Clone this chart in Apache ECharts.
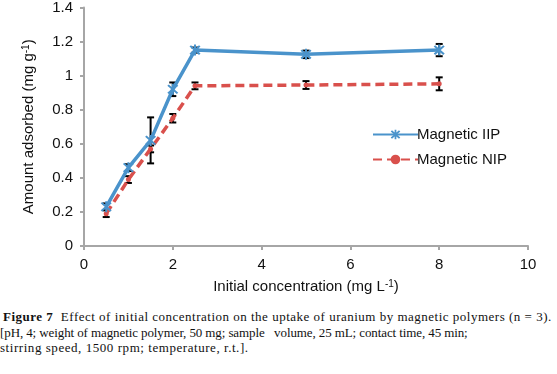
<!DOCTYPE html>
<html>
<head>
<meta charset="utf-8">
<script src="https://cdn.jsdelivr.net/npm/echarts@6/dist/echarts.min.js"></script>
<style>
html,body{margin:0;padding:0;background:#fff;}
#chart{position:absolute;left:0;top:0;width:557px;height:300px;}
#cap{position:absolute;left:0;top:309px;width:560px;font-family:"Liberation Serif",serif;font-size:13px;line-height:15.5px;color:#111;white-space:nowrap;}
#cap b{font-weight:bold;}
</style>
</head>
<body>
<div id="chart"></div>
<div id="cap">
<div style="padding-left:3px;letter-spacing:0.5px"><b>Figure 7</b>&nbsp; Effect of initial concentration on the uptake of uranium by magnetic polymers (n = 3).</div>
<div style="letter-spacing:-0.1px">[pH, 4; weight of magnetic polymer, 50 mg; sample &nbsp; volume, 25 mL; contact time, 45 min;</div>
<div style="letter-spacing:0.55px">stirring speed, 1500 rpm; temperature, r.t.].</div>
</div>
<script>
var concentrations = [0.5, 1, 1.5, 2, 2.5, 5, 8];
var iipValues = [0.23, 0.46, 0.62, 0.92, 1.15, 1.125, 1.15];
var iipErrors = [0.02, 0.02, 0.135, 0.04, 0.015, 0.022, 0.036];
var nipValues = [0.19, 0.39, 0.57, 0.75, 0.94, 0.945, 0.952];
var nipErrors = [0.02, 0.02, 0.02, 0.025, 0.02, 0.023, 0.038];
var xTicks = [0, 2, 4, 6, 8, 10];
var yTicks = [0, 0.2, 0.4, 0.6, 0.8, 1, 1.2, 1.4];

var blue = '#4a93cb';
var red = '#d9504c';
var axisGray = '#a6a6a6';
var font = 'Liberation Sans, Arial, sans-serif';
var asterisk = 'path://M4.2,0 L5.8,0 L5.8,10 L4.2,10 Z M0.6,1.8 L1.8,0.6 L9.4,8.2 L8.2,9.4 Z M8.2,0.6 L9.4,1.8 L1.8,9.4 L0.6,8.2 Z';

function pairs(xs, ys) { return xs.map(function (x, i) { return [x, ys[i]]; }); }
function errData(xs, ys, es) { return xs.map(function (x, i) { return [x, ys[i] - es[i], ys[i] + es[i]]; }); }

function errRender(params, api) {
  var x = api.value(0);
  var lo = api.coord([x, api.value(1)]);
  var hi = api.coord([x, api.value(2)]);
  var w = 3.5;
  var st = { stroke: '#000', lineWidth: 2 };
  return {
    type: 'group',
    children: [
      { type: 'line', shape: { x1: lo[0], y1: lo[1], x2: hi[0], y2: hi[1] }, style: st },
      { type: 'line', shape: { x1: lo[0] - w, y1: lo[1], x2: lo[0] + w, y2: lo[1] }, style: st },
      { type: 'line', shape: { x1: hi[0] - w, y1: hi[1], x2: hi[0] + w, y2: hi[1] }, style: st }
    ]
  };
}

var chart = echarts.init(document.getElementById('chart'));
chart.setOption({
  animation: false,
  backgroundColor: '#fff',
  grid: { left: 84, right: 29, top: 6, bottom: 54 },
  legend: {
    left: 367, top: 122, orient: 'vertical', itemWidth: 45, itemHeight: 12, itemGap: 10,
    textStyle: { fontFamily: font, fontSize: 15, color: '#111', padding: [0, 0, 0, -6] },
    data: ['Magnetic IIP', 'Magnetic NIP']
  },
  xAxis: {
    type: 'value', min: xTicks[0], max: xTicks[xTicks.length - 1], interval: 2,
    name: 'Initial concentration (mg L{sup|-1})', nameLocation: 'middle', nameGap: 33,
    nameTextStyle: { fontFamily: font, fontSize: 15, color: '#111', rich: { sup: { fontSize: 10, verticalAlign: 'top', padding: [0, 0, 6, 0], fontFamily: font, color: '#111' } } },
    axisLine: { lineStyle: { color: axisGray, width: 2 } },
    axisTick: { show: true, length: 4, lineStyle: { color: axisGray, width: 2 } },
    axisLabel: { margin: 11, fontFamily: font, fontSize: 15, color: '#111' },
    splitLine: { show: false }
  },
  yAxis: {
    type: 'value', min: yTicks[0], max: yTicks[yTicks.length - 1], interval: 0.2,
    name: 'Amount adsorbed (mg g{sup|-1})', nameLocation: 'middle', nameGap: 47,
    nameTextStyle: { fontFamily: font, fontSize: 15, color: '#111', rich: { sup: { fontSize: 10, padding: [0, 0, 6, 0], fontFamily: font, color: '#111' } } },
    axisLine: { show: true, lineStyle: { color: axisGray, width: 2 } },
    axisTick: { show: true, length: 4, lineStyle: { color: axisGray, width: 2 } },
    axisLabel: { margin: 11, fontFamily: font, fontSize: 15, color: '#111' },
    splitLine: { show: false }
  },
  series: [
    { type: 'custom', name: 'errIIP', renderItem: errRender, data: errData(concentrations, iipValues, iipErrors), z: 1, encode: { x: 0, y: [1, 2] }, silent: true },
    { type: 'custom', name: 'errNIP', renderItem: errRender, data: errData(concentrations, nipValues, nipErrors), z: 1, encode: { x: 0, y: [1, 2] }, silent: true },
    {
      type: 'line', name: 'Magnetic NIP', data: pairs(concentrations, nipValues), z: 3,
      lineStyle: { color: red, width: 3.5, type: [9, 5] },
      itemStyle: { color: red }, symbol: 'circle', symbolSize: 5
    },
    {
      type: 'line', name: 'Magnetic IIP', data: pairs(concentrations, iipValues), z: 4,
      lineStyle: { color: blue, width: 3.5 },
      itemStyle: { color: blue }, symbol: asterisk, symbolSize: 11
    }
  ]
});
</script>
</body>
</html>
